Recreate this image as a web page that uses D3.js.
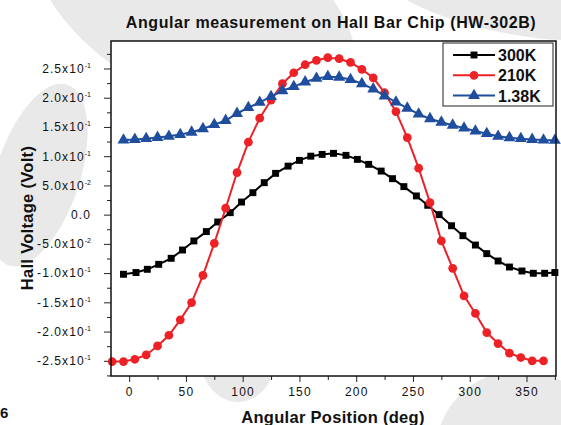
<!DOCTYPE html>
<html>
<head>
<meta charset="utf-8">
<script src="https://cdn.jsdelivr.net/npm/d3@7"></script>
<style>
  body { margin: 0; background: #fff; }
  svg { display: block; font-family: "Liberation Sans", Arial, sans-serif; }
</style>
</head>
<body>
<svg id="chart" width="561" height="425"></svg>
<script>
// angle (deg) and Hall voltage (V)
var deg300 = [-5, 6, 16, 26, 37, 47, 57, 68, 78, 89, 99, 109, 119, 129, 140, 150, 160, 170, 180,
              191, 201, 211, 222, 232, 242, 253, 263, 273, 284, 294, 305, 315, 325, 335, 346, 356, 366, 375];
var volt300 = [-0.102, -0.099, -0.0935, -0.085, -0.0747, -0.0605, -0.045, -0.029, -0.0126, 0.0034,
               0.0215, 0.0376, 0.0547, 0.0706, 0.083, 0.0928, 0.100, 0.103, 0.1048,
               0.1014, 0.0945, 0.086, 0.0745, 0.0615, 0.0479, 0.032, 0.016, 0.000, -0.019,
               -0.036, -0.052, -0.0667, -0.0793, -0.0896, -0.0964, -0.1003, -0.1003, -0.099];

var deg210 = [-15, -5, 5, 15, 25, 35, 45, 55, 65, 75, 85, 95, 105, 115, 125, 135, 145, 155, 165, 175,
              185, 195, 205, 215, 225, 235, 245, 255, 265, 275, 285, 295, 305, 315, 325, 335, 345, 355, 365];
var volt210 = [-0.2513, -0.2513, -0.2474, -0.240, -0.2246, -0.2063, -0.180, -0.1504, -0.1038, -0.049,
               0.011, 0.072, 0.124, 0.165, 0.196, 0.224, 0.2427, 0.2564, 0.264, 0.2685,
               0.2667, 0.2603, 0.2486, 0.234, 0.2085, 0.1762, 0.1316, 0.0795, 0.0205, -0.045,
               -0.0918, -0.139, -0.169, -0.2017, -0.2205, -0.237, -0.2444, -0.250, -0.250];

var deg138 = [-5, 5, 15, 25, 35, 45, 55, 65, 75, 85, 95, 105, 115, 125, 135, 145, 155, 165, 175,
              185, 195, 205, 215, 225, 235, 245, 255, 265, 275, 285, 295, 305, 315, 325, 335, 345, 355, 365, 375];
var volt138 = [0.1275, 0.1285, 0.130, 0.132, 0.134, 0.137, 0.141, 0.147, 0.154, 0.161,
               0.173, 0.183, 0.192, 0.202, 0.212, 0.219, 0.227, 0.233, 0.236,
               0.235, 0.231, 0.224, 0.215, 0.203, 0.1925, 0.182, 0.172, 0.164, 0.158,
               0.153, 0.148, 0.143, 0.1385, 0.134, 0.1315, 0.130, 0.1285, 0.1275, 0.127];

var seriesNames = ["300K", "210K", "1.38K"];
var seriesColors = ["#000000", "#ec2227", "#1f4e9e"];
var seriesSymbols = [d3.symbolSquare, d3.symbolCircle, d3.symbolTriangle];

var yMajor = [-0.25, -0.2, -0.15, -0.1, -0.05, 0, 0.05, 0.1, 0.15, 0.2, 0.25];
var yMinor = [-0.275, -0.225, -0.175, -0.125, -0.075, -0.025, 0.025, 0.075, 0.125, 0.175, 0.225, 0.275];
var xMajor = [0, 50, 100, 150, 200, 250, 300, 350];
var xMinor = [25, 75, 125, 175, 225, 275, 325, 375];

window.addEventListener("load", drawChart);

function drawChart() {
    var svg = d3.select("#chart");
    var L = 111, R = 556, T = 41, B = 376;

    // faint watermark blobs behind the page
    var blobs = svg.append("g").attr("fill", "#e9e9e9");
    blobs.append("ellipse").attr("transform", "translate(195,5) rotate(28)")
        .attr("rx", 175).attr("ry", 95);
    blobs.append("ellipse").attr("transform", "translate(38,175) rotate(18)")
        .attr("rx", 42).attr("ry", 95);
    blobs.append("ellipse").attr("transform", "translate(238,350)")
        .attr("rx", 40).attr("ry", 52);
    blobs.append("circle").attr("cx", 520).attr("cy", 455).attr("r", 85);
    blobs.append("ellipse").attr("transform", "translate(520,-15) rotate(10)")
        .attr("rx", 150).attr("ry", 50);

    var scX = d3.scaleLinear().domain([-16, 376]).range([L, R]);
    var scY = d3.scaleLinear().domain([-0.276, 0.297]).range([B, T]);

    svg.append("rect").attr("x", L).attr("y", T)
        .attr("width", R - L).attr("height", B - T).attr("fill", "#fff");

    // axes: major ticks with labels, then minor ticks in their own group
    var gx = svg.append("g").attr("transform", "translate(0," + B + ")");
    gx.call(d3.axisBottom(scX).tickValues(xMajor).tickSize(6).tickPadding(5));
    gx.selectAll(".tick text").attr("font-size", 12).attr("letter-spacing", 1.2)
        .attr("fill", "#111").attr("font-family", "Liberation Sans, Arial, sans-serif");
    gx.append("g").call(d3.axisBottom(scX).tickValues(xMinor).tickSize(4).tickFormat(""));

    var gy = svg.append("g").attr("transform", "translate(" + L + ",0)");
    gy.call(d3.axisLeft(scY).tickValues(yMajor).tickSize(7).tickPadding(13).tickFormat(""));
    gy.selectAll(".tick text").each(function(d) {
        var t = d3.select(this).attr("font-size", 12).attr("letter-spacing", 1.1)
            .attr("fill", "#111").attr("font-family", "Liberation Sans, Arial, sans-serif");
        if (Math.abs(d) < 1e-9) { t.text("0.0"); return; }
        var e = Math.floor(Math.log10(Math.abs(d)) + 1e-9);
        var m = d / Math.pow(10, e);
        t.append("tspan").text(m.toFixed(1) + "x10");
        t.append("tspan").attr("font-size", 7).attr("dy", -5).attr("letter-spacing", 0).text(e);
    });
    gy.append("g").call(d3.axisLeft(scY).tickValues(yMinor).tickSize(4).tickFormat(""));
    svg.selectAll(".domain").remove();
    svg.selectAll(".tick line").attr("stroke", "#222");

    // data
    var sets = [[deg300, volt300], [deg210, volt210], [deg138, volt138]];
    var plot = svg.append("g");
    var line = d3.line().x(d => scX(d[0])).y(d => scY(d[1]));
    var symSize = [48, 60, 62];
    sets.forEach(function(s, k) {
        var pts = d3.zip(s[0], s[1]);
        plot.append("path").datum(pts).attr("d", line)
            .attr("fill", "none").attr("stroke", seriesColors[k]).attr("stroke-width", 2);
        plot.append("g").selectAll("path").data(pts).enter().append("path")
            .attr("transform", d => "translate(" + scX(d[0]) + "," + scY(d[1]) + ")")
            .attr("d", d3.symbol().type(seriesSymbols[k]).size(symSize[k]))
            .attr("fill", seriesColors[k]);
    });

    svg.append("rect").attr("x", L).attr("y", T)
        .attr("width", R - L).attr("height", B - T)
        .attr("fill", "none").attr("stroke", "#111").attr("stroke-width", 1.5);

    // legend
    var lg = svg.append("g").attr("transform", "translate(443,43)");
    lg.append("rect").attr("width", 110).attr("height", 63)
        .attr("fill", "#fff").attr("stroke", "#222").attr("stroke-width", 1);
    seriesNames.forEach(function(n, k) {
        var y = 12 + k * 20.3;
        lg.append("line").attr("x1", 10).attr("x2", 52).attr("y1", y).attr("y2", y)
            .attr("stroke", seriesColors[k]).attr("stroke-width", 2);
        lg.append("path").attr("transform", "translate(31," + y + ")")
            .attr("d", d3.symbol().type(seriesSymbols[k]).size(symSize[k]))
            .attr("fill", seriesColors[k]);
        lg.append("text").attr("x", 55).attr("y", y + 6).text(n)
            .attr("font-size", 16).attr("font-weight", "bold").attr("fill", "#111");
    });

    // titles
    svg.append("text").attr("x", 331).attr("y", 28).attr("text-anchor", "middle")
        .attr("font-size", 16).attr("font-weight", "bold").attr("letter-spacing", 0.6)
        .attr("fill", "#111").text("Angular measurement on Hall Bar Chip (HW-302B)");
    svg.append("text").attr("x", 333).attr("y", 423).attr("text-anchor", "middle")
        .attr("font-size", 16.5).attr("font-weight", "bold").attr("letter-spacing", 0.3)
        .attr("fill", "#111").text("Angular Position (deg)");
    svg.append("text").attr("transform", "translate(33,218) rotate(-90)")
        .attr("text-anchor", "middle").attr("font-size", 16.5).attr("font-weight", "bold")
        .attr("letter-spacing", 0.3).attr("fill", "#111").text("Hall Voltage (Volt)");
    svg.append("text").attr("x", 0).attr("y", 418).attr("font-size", 15)
        .attr("font-weight", "bold").attr("fill", "#111").text("6");
}
</script>
</body>
</html>
